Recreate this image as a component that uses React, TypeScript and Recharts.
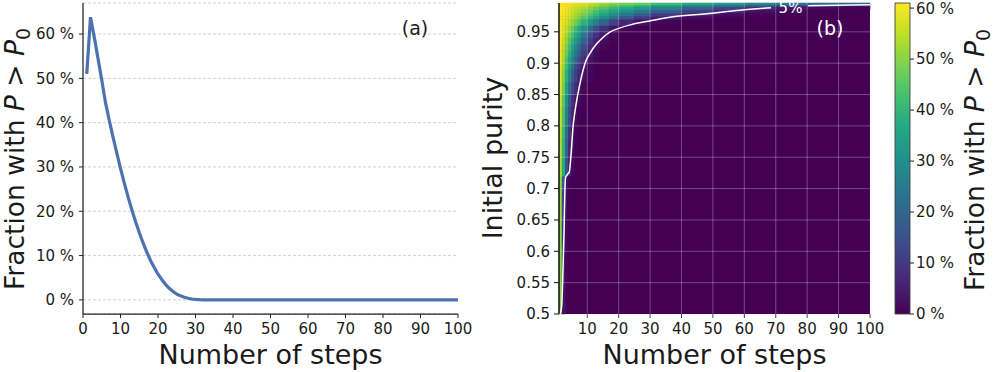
import React from 'react';
import {
  LineChart,
  Line,
  XAxis,
  YAxis,
  CartesianGrid,
  ComposedChart,
  ReferenceArea,
  ReferenceLine,
} from 'recharts';

// ---------- Panel (a) data ----------
const fractionA = [
  51, 63.8, 59.3, 54.5, 49.6, 44.5, 40.5, 36.8, 33.2, 29.7,
  26.4, 23.3, 20.4, 17.7, 15.2, 12.9, 10.8, 8.9, 7.3, 5.8,
  4.6, 3.5, 2.6, 1.9, 1.3, 0.9, 0.6, 0.35, 0.2, 0.1,
  0.05, 0.02, 0, 0, 0, 0, 0, 0, 0, 0,
  0, 0, 0, 0, 0, 0, 0, 0, 0, 0,
  0, 0, 0, 0, 0, 0, 0, 0, 0, 0,
  0, 0, 0, 0, 0, 0, 0, 0, 0, 0,
  0, 0, 0, 0, 0, 0, 0, 0, 0, 0,
  0, 0, 0, 0, 0, 0, 0, 0, 0, 0,
  0, 0, 0, 0, 0, 0, 0, 0, 0, 0,
];
const xTicksA = [0, 10, 20, 30, 40, 50, 60, 70, 80, 90, 100];
const yTicksA = [0, 10, 20, 30, 40, 50, 60];

// ---------- Panel (b) data ----------
const heatStepEdges = [1, 2, 3, 4, 5, 6, 7, 8, 10, 12, 14, 17, 20, 25, 30, 40, 50, 60, 70, 80, 90, 100];
const heatPurityEdges = [
  0.5, 0.55, 0.6, 0.65, 0.7, 0.72, 0.75, 0.78, 0.8, 0.83, 0.85, 0.87, 0.89, 0.9,
  0.91, 0.92, 0.93, 0.94, 0.95, 0.96, 0.97, 0.975, 0.98, 0.985, 0.99, 0.993, 0.996,
];
// rows from bottom (purity 0.5) to top; columns follow heatStepEdges
const heatValues = [
  [50, 3],
  [50, 6, 0.5],
  [50, 9, 1],
  [51, 12, 1.5, 0.3],
  [51, 16, 2.5, 0.5],
  [53, 38, 16, 5, 1],
  [54, 40, 20, 7, 2, 0.5],
  [55, 42, 23, 9, 3, 1],
  [56, 44, 27, 14, 6, 2, 0.6],
  [57, 46, 31, 18, 9, 4, 1.5, 0.3],
  [58, 48, 35, 23, 13, 7, 3.5, 1],
  [59, 50, 39, 28, 18, 11, 6.5, 2.5, 0.5],
  [59, 52, 42, 32, 23, 15, 9.5, 4.5, 1],
  [60, 53, 44, 36, 28, 20, 14, 8, 3, 0.8],
  [60, 54, 47, 39, 32, 25, 18, 11, 5, 1.5, 0.3],
  [60, 55, 49, 42, 35, 28, 22, 14, 7, 3, 0.8],
  [61, 56, 51, 45, 39, 33, 27, 19, 11, 5, 1.8, 0.3],
  [61, 57, 53, 48, 43, 37, 32, 24, 15, 9, 4, 1],
  [61, 58, 55, 51, 47, 42, 37, 30, 21, 14, 8, 3.5, 1],
  [61, 59, 57, 54, 51, 48, 44, 39, 32, 26, 19, 12, 6.5, 2.5, 0.5],
  [61, 60, 58, 56, 54, 52, 49, 45, 40, 35, 29, 23, 16, 10, 5, 1.5, 0.3],
  [61, 60, 59, 57, 55, 53, 51, 48, 44, 40, 35, 30, 24, 18, 11, 5.5, 2, 0.5],
  [61, 60, 59, 58, 56, 54, 53, 50, 47, 43, 39, 35, 30, 25, 18, 11, 6, 2.5, 0.8],
  [61, 61, 60, 59, 57, 56, 55, 53, 50, 47, 44, 40, 36, 32, 26, 19, 12, 7, 3.5, 1.5, 0.5],
  [61, 61, 60, 60, 59, 58, 57, 56, 54, 52, 49, 46, 43, 39, 34, 28, 22, 16, 11, 7, 4],
  [61, 61, 61, 60, 60, 59, 59, 58, 56, 54, 52, 50, 48, 46, 42, 38, 33, 29, 25, 22, 20],
];
const contourLeft = [
  { step: 1.3, purity: 0.5 }, { step: 1.85, purity: 0.512 }, { step: 2.2, purity: 0.56 },
  { step: 2.6, purity: 0.629 }, { step: 2.9, purity: 0.7 }, { step: 3.1, purity: 0.718 },
  { step: 3.6, purity: 0.722 }, { step: 4.3, purity: 0.727 }, { step: 4.6, purity: 0.74 },
  { step: 5.0, purity: 0.765 }, { step: 5.4, purity: 0.795 }, { step: 6.0, purity: 0.82 },
  { step: 6.8, purity: 0.845 }, { step: 8.0, purity: 0.875 }, { step: 9.3, purity: 0.9 },
  { step: 11, purity: 0.917 }, { step: 13, purity: 0.931 }, { step: 15, purity: 0.941 },
  { step: 17.3, purity: 0.95 }, { step: 20, purity: 0.9555 }, { step: 24, purity: 0.9615 },
  { step: 28.4, purity: 0.966 }, { step: 33, purity: 0.9705 }, { step: 37.3, purity: 0.974 },
  { step: 48, purity: 0.979 }, { step: 58.6, purity: 0.9845 }, { step: 68.5, purity: 0.9885 },
];
const contourRight = [
  { step: 80.3, purity: 0.9917 }, { step: 90, purity: 0.9925 }, { step: 100, purity: 0.9932 },
];
const xTicksB = [10, 20, 30, 40, 50, 60, 70, 80, 90, 100];
const yTicksB = [0.5, 0.55, 0.6, 0.65, 0.7, 0.75, 0.8, 0.85, 0.9, 0.95];
const colorbarTicks = [0, 10, 20, 30, 40, 50, 60];
const colorMax = 61;

// ---------- helpers ----------
const VIRIDIS = [
  '#440154', '#482475', '#414487', '#355f8d', '#2a788e', '#21918c',
  '#22a884', '#44bf70', '#7ad151', '#bddf26', '#fde725',
];
function hex(c: string) {
  return [parseInt(c.slice(1, 3), 16), parseInt(c.slice(3, 5), 16), parseInt(c.slice(5, 7), 16)];
}
function viridis(t: number) {
  const tt = Math.max(0, Math.min(1, t)) * (VIRIDIS.length - 1);
  const i = Math.min(VIRIDIS.length - 2, Math.floor(tt));
  const f = tt - i;
  const a = hex(VIRIDIS[i]);
  const b = hex(VIRIDIS[i + 1]);
  const c = a.map((v, k) => Math.round(v + (b[k] - v) * f));
  return `rgb(${c[0]},${c[1]},${c[2]})`;
}

const FONT = 'DejaVu Sans';
const tickStyle = { fill: '#1a1a1a', fontSize: 15, fontFamily: FONT };

const lineData = fractionA.map((v, i) => ({ step: i + 1, frac: v }));

const heatCells: { x1: number; x2: number; y1: number; y2: number; v: number }[] = [];
heatValues.forEach((row, i) => {
  row.forEach((v, j) => {
    if (v >= 0.3) {
      heatCells.push({
        x1: heatStepEdges[j],
        x2: heatStepEdges[j + 1],
        y1: heatPurityEdges[i],
        y2: heatPurityEdges[i + 1],
        v,
      });
    }
  });
});

const cbFrame = [
  { x: 0, y: 0 },
  { x: 1, y: colorMax },
];

export default function App() {
  return (
    <div style={{ position: 'absolute', left: 0, top: 0, width: 996, height: 372, background: '#fff' }}>
      {/* Panel (a) */}
      <div style={{ position: 'absolute', left: 0, top: 0 }}>
        <LineChart width={490} height={372} data={lineData} margin={{ top: 3, right: 32, left: 0, bottom: 0 }}>
          <CartesianGrid vertical={false} stroke="#d0d0d0" strokeDasharray="3 2" />
          <XAxis
            dataKey="step"
            type="number"
            domain={[0, 100]}
            ticks={xTicksA}
            height={58}
            tick={tickStyle}
            tickSize={4}
            tickMargin={5}
            axisLine={{ stroke: '#222', strokeWidth: 1.25 }}
            tickLine={{ stroke: '#222' }}
            allowDataOverflow
          />
          <YAxis
            type="number"
            domain={[-3.19, 67]}
            ticks={yTicksA}
            width={83}
            tick={tickStyle}
            tickSize={4}
            tickMargin={5}
            tickFormatter={(v: number) => `${v} %`}
            axisLine={{ stroke: '#222', strokeWidth: 1.25 }}
            tickLine={{ stroke: '#222' }}
            allowDataOverflow
          />
          <Line
            dataKey="frac"
            stroke="#4c72b0"
            strokeWidth={3.2}
            dot={false}
            type="linear"
            isAnimationActive={false}
          />
        </LineChart>
      </div>

      {/* Panel (b) heatmap */}
      <div style={{ position: 'absolute', left: 470, top: 0 }}>
        <ComposedChart width={420} height={372} margin={{ top: 3, right: 20, left: 0, bottom: 0 }}>
          <XAxis
            dataKey="step"
            type="number"
            domain={[1, 100]}
            ticks={xTicksB}
            height={58}
            tick={tickStyle}
            tickSize={4}
            tickMargin={5}
            axisLine={false}
            tickLine={{ stroke: '#444' }}
            allowDataOverflow
          />
          <YAxis
            type="number"
            domain={[0.5, 0.996]}
            ticks={yTicksB}
            width={89}
            tick={tickStyle}
            tickSize={5}
            tickMargin={4}
            tickFormatter={(v: number) => String(v)}
            axisLine={{ stroke: '#111', strokeWidth: 1.5 }}
            tickLine={{ stroke: '#111' }}
            allowDataOverflow
          />
          <ReferenceArea x1={1} x2={100} y1={0.5} y2={0.996} fill={viridis(0)} fillOpacity={1} stroke="none" />
          {heatCells.map((c, k) => (
            <ReferenceArea
              key={`c${k}`}
              x1={c.x1}
              x2={c.x2}
              y1={c.y1}
              y2={c.y2}
              fill={viridis(c.v / colorMax)}
              fillOpacity={1}
              stroke={viridis(c.v / colorMax)}
              strokeWidth={0.6}
            />
          ))}
          {xTicksB.slice(0, -1).map((x) => (
            <ReferenceLine key={`gx${x}`} x={x} stroke="#ffffff" strokeOpacity={0.28} strokeWidth={1} />
          ))}
          {yTicksB.slice(1).map((y) => (
            <ReferenceLine key={`gy${y}`} y={y} stroke="#ffffff" strokeOpacity={0.28} strokeWidth={1} />
          ))}
          <Line
            data={contourLeft}
            dataKey="purity"
            stroke="#ffffff"
            strokeWidth={1.5}
            dot={false}
            type="monotoneX"
            isAnimationActive={false}
          />
          <Line
            data={contourRight}
            dataKey="purity"
            stroke="#ffffff"
            strokeWidth={1.5}
            dot={false}
            type="monotoneX"
            isAnimationActive={false}
          />
        </ComposedChart>
      </div>

      {/* Colorbar */}
      <div style={{ position: 'absolute', left: 880, top: 0 }}>
        <ComposedChart width={116} height={372} data={cbFrame} margin={{ top: 3, right: 0, left: 15, bottom: 58 }}>
          <defs>
            <linearGradient id="cbViridis" x1="0" y1="1" x2="0" y2="0">
              {VIRIDIS.map((c, i) => (
                <stop key={c} offset={`${(i / (VIRIDIS.length - 1)) * 100}%`} stopColor={c} />
              ))}
            </linearGradient>
          </defs>
          <XAxis type="number" dataKey="x" domain={[0, 1]} hide />
          <YAxis
            orientation="right"
            type="number"
            dataKey="y"
            domain={[0, colorMax]}
            ticks={colorbarTicks}
            width={86}
            tick={tickStyle}
            tickSize={4}
            tickMargin={2}
            tickFormatter={(v: number) => `${v} %`}
            axisLine={false}
            tickLine={{ stroke: '#222' }}
            allowDataOverflow
          />
          <ReferenceArea
            x1={0}
            x2={1}
            y1={0}
            y2={colorMax}
            fill="url(#cbViridis)"
            fillOpacity={1}
            stroke="#444"
            strokeWidth={0.9}
          />
        </ComposedChart>
      </div>

      {/* Titles / labels */}
      <svg
        width={996}
        height={372}
        style={{ position: 'absolute', left: 0, top: 0, pointerEvents: 'none' }}
        fontFamily={FONT}
      >
        <text x={24} y={159} fontSize={26.5} fill="#1a1a1a" textAnchor="middle" transform="rotate(-90 24 159)">
          Fraction with <tspan fontStyle="italic">P</tspan> &gt; <tspan fontStyle="italic">P</tspan>
          <tspan fontSize={19} dy={6}>0</tspan>
        </text>
        <text x={270.5} y={364} fontSize={27} fill="#1a1a1a" textAnchor="middle">
          Number of steps
        </text>
        <text x={415} y={35} fontSize={19} fill="#1a1a1a" textAnchor="middle">
          (a)
        </text>
        <text x={502} y={158} fontSize={27} fill="#1a1a1a" textAnchor="middle" transform="rotate(-90 502 158)">
          Initial purity
        </text>
        <text x={714.5} y={364} fontSize={27} fill="#1a1a1a" textAnchor="middle">
          Number of steps
        </text>
        <text x={830} y={35} fontSize={19} fill="#ffffff" textAnchor="middle">
          (b)
        </text>
        <text x={790.5} y={12.5} fontSize={15} fill="#ffffff" textAnchor="middle">
          5%
        </text>
        <text x={984} y={160} fontSize={26.5} fill="#1a1a1a" textAnchor="middle" transform="rotate(-90 984 160)">
          Fraction with <tspan fontStyle="italic">P</tspan> &gt; <tspan fontStyle="italic">P</tspan>
          <tspan fontSize={19} dy={6}>0</tspan>
        </text>
      </svg>
    </div>
  );
}
